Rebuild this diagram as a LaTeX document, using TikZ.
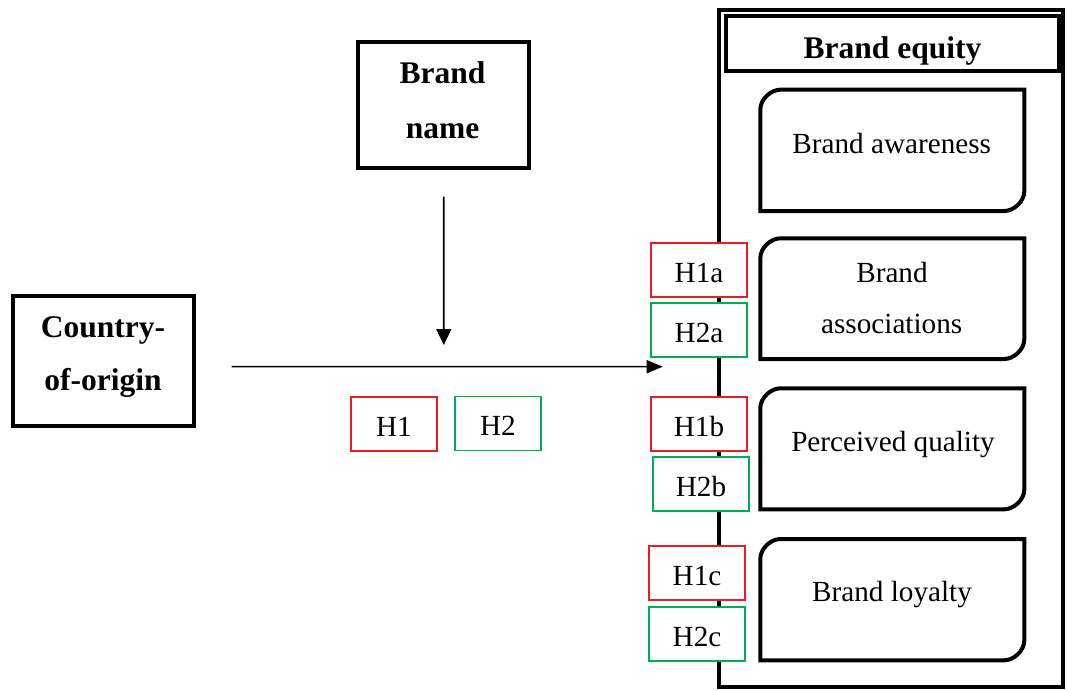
\documentclass[tikz,border=0pt]{standalone}
\usepackage{fontspec}
\setmainfont{Liberation Serif}
\usetikzlibrary{arrows.meta,calc}
\definecolor{hred}{RGB}{237,28,36}
\definecolor{hgreen}{RGB}{0,176,80}
\begin{document}
\begin{tikzpicture}[x=1pt,y=-1pt,
  thickbox/.style={draw,line width=4pt,rectangle,inner sep=0pt},
  hbox/.style={draw,line width=1.2pt,fill=white,rectangle,inner sep=0pt,
     minimum width=96pt,minimum height=54pt,text height=24.4pt,text depth=0pt,
     font=\fontsize{29.2}{35}\selectfont},
  reg/.style={font=\fontsize{29.2}{35}\selectfont,anchor=base,inner sep=0pt},
  bld/.style={font=\fontsize{31.5}{38}\selectfont\bfseries,anchor=base,inner sep=0pt},
  conn/.style={line width=1.7pt,-{Triangle[length=16pt,width=15pt]}},
  hconn/.style={line width=1.5pt,-{Triangle[length=16pt,width=13pt]}},
]
\fill[white] (0,0) rectangle (1067,690);
\useasboundingbox (0,0) rectangle (1067,690);

% Country-of-origin
\node[thickbox,minimum width=180.7pt,minimum height=129.7pt] (coo) at (103.35,360.85) {};
\node[bld] (coo1) at (103,337.3) {Country-};
\node[bld] (coo2) at (103,390.5) {of-origin};

% Brand name
\node[thickbox,minimum width=171.5pt,minimum height=125pt] (bname) at (443.25,105) {};
\node[bld] (bn1) at (442.5,83.3) {Brand};
\node[bld] (bn2) at (442.5,138.3) {name};

% Brand equity container
\node[draw,line width=3.3pt,rectangle,inner sep=0pt,minimum width=344pt,minimum height=677pt] (beq) at (891,348.5) {};
\node[thickbox,minimum width=332.7pt,minimum height=54.7pt] (title) at (892.35,43.35) {};
\node[bld] (titlet) at (892.5,58.3) {Brand equity};

% rounded dimension boxes
\foreach \nm/\tp/\bt in {aw/89.7/211, as/238.3/359, pq/388.3/509.3, bl/539/660.3} {
  \draw[line width=4pt] (760.3,\tp+20) .. controls (760.3,\tp+9) and (771.3,\tp) .. (780.3,\tp)
     -- (1024.3,\tp) -- (1024.3,\bt-20) .. controls (1024.3,\bt-9) and (1013.3,\bt) .. (1004.3,\bt)
     -- (760.3,\bt) -- cycle;
  \node[inner sep=0pt,minimum width=264pt,minimum height=\bt pt-\tp pt] (\nm) at (892.3,{(\tp+\bt)/2}) {};
}
\node[reg] (awt) at (891.7,153.3) {Brand awareness};
\node[reg] (ast1) at (892,282.7) {Brand};
\node[reg] (ast2) at (891.7,333) {associations};
\node[reg] (pqt) at (893,451.7) {Perceived quality};
\node[reg] (blt) at (892,601.7) {Brand loyalty};

% hypothesis boxes
\node[hbox,draw=hred] (h1a) at (699,270) {H1a};
\node[hbox,draw=hgreen] (h2a) at (699,330) {H2a};
\node[hbox,draw=hred] (h1b) at (699,424) {H1b};
\node[hbox,draw=hgreen] (h2b) at (701,484) {H2b};
\node[hbox,draw=hred] (h1c) at (697,573) {H1c};
\node[hbox,draw=hgreen] (h2c) at (697,634) {H2c};
\node[hbox,draw=hred,minimum width=86pt] (h1) at (394,424) {H1};
\node[hbox,draw=hgreen,minimum width=86pt] (h2) at (498,423.5) {H2};

% connectors
\coordinate (vend) at (443.8,345);
\coordinate (hend) at (662.7,366.7);
\draw[conn] ($(bname.south)+(0.5,27.2)$) -- (vend);
\draw[hconn] ($(coo.east)+(36,5.85)$) -- (hend);
\end{tikzpicture}
\end{document}
